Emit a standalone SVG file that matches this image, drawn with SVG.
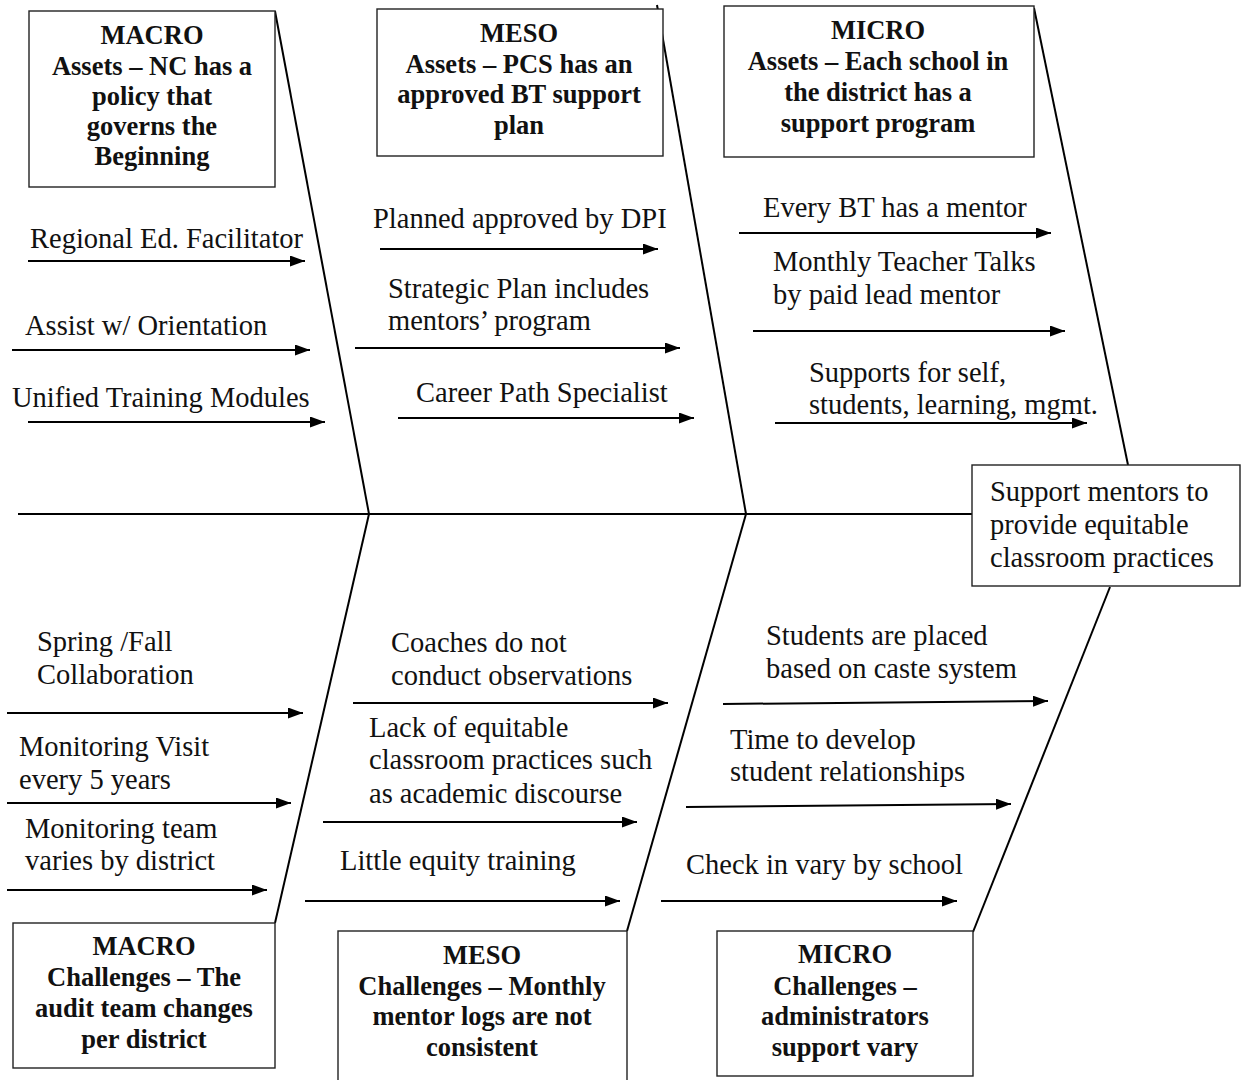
<svg xmlns="http://www.w3.org/2000/svg" width="1244" height="1080" viewBox="0 0 1244 1080">
  <style>
    .bone { stroke: #000; stroke-width: 2; fill: none; }
    .arrow { stroke: #000; stroke-width: 2; fill: none; marker-end: url(#head); }
    .box { fill: #fff; stroke: #222; stroke-width: 1.4; }
    .lbl { font-family: 'Liberation Serif', Tinos, 'DejaVu Serif', serif; font-size: 28.5px; fill: #111; }
    .hd { font-family: 'Liberation Serif', Tinos, 'DejaVu Serif', serif; font-size: 26.5px; font-weight: bold; fill: #111; text-anchor: middle; }
  </style>
  <defs>
    <marker id="head" markerUnits="userSpaceOnUse" markerWidth="15" markerHeight="11" refX="15" refY="5.5" orient="auto">
      <path d="M0,0 L15,5.5 L0,11 z" fill="#000"/>
    </marker>
  </defs>
  <rect width="1244" height="1080" fill="#fff"/>

  <!-- spine and ribs -->
  <g id="connectors">
    <line class="bone" x1="18" y1="514" x2="972" y2="514"/>
    <line class="bone" x1="275" y1="11" x2="369" y2="514"/>
    <line class="bone" x1="657" y1="5" x2="746" y2="514"/>
    <line class="bone" x1="1034" y1="8" x2="1128" y2="465"/>
    <line class="bone" x1="369" y1="514" x2="275" y2="923"/>
    <line class="bone" x1="746" y1="514" x2="627" y2="931"/>
    <line class="bone" x1="1110" y1="587" x2="973" y2="932"/>

    <!-- macro assets -->
    <line class="arrow" x1="28" y1="261" x2="305" y2="261"/>
    <line class="arrow" x1="12" y1="350" x2="310" y2="350"/>
    <line class="arrow" x1="28" y1="422" x2="325" y2="422"/>
    <!-- meso assets -->
    <line class="arrow" x1="380" y1="249" x2="658" y2="249"/>
    <line class="arrow" x1="355" y1="348" x2="680" y2="348"/>
    <line class="arrow" x1="398" y1="418" x2="694" y2="418"/>
    <!-- micro assets -->
    <line class="arrow" x1="739" y1="233" x2="1051" y2="233"/>
    <line class="arrow" x1="753" y1="331" x2="1065" y2="331"/>
    <line class="arrow" x1="775" y1="423" x2="1087" y2="423"/>
    <!-- macro challenges -->
    <line class="arrow" x1="7" y1="713" x2="303" y2="713"/>
    <line class="arrow" x1="7" y1="803" x2="291" y2="803"/>
    <line class="arrow" x1="7" y1="890" x2="267" y2="890"/>
    <!-- meso challenges -->
    <line class="arrow" x1="353" y1="703" x2="668" y2="703"/>
    <line class="arrow" x1="323" y1="822" x2="637" y2="822"/>
    <line class="arrow" x1="305" y1="901" x2="620" y2="901"/>
    <!-- micro challenges -->
    <line class="arrow" x1="723" y1="704" x2="1048" y2="701"/>
    <line class="arrow" x1="686" y1="807" x2="1011" y2="804"/>
    <line class="arrow" x1="661" y1="901" x2="957" y2="901"/>
  </g>

  <!-- branch labels -->
  <g id="labels">
    <text class="lbl" x="30" y="248">Regional Ed. Facilitator</text>
    <text class="lbl" x="25" y="335">Assist w/ Orientation</text>
    <text class="lbl" x="12" y="407">Unified Training Modules</text>

    <text class="lbl" x="373" y="228">Planned approved by DPI</text>
    <text class="lbl" x="388" y="298">Strategic Plan includes</text>
    <text class="lbl" x="388" y="330">mentors’ program</text>
    <text class="lbl" x="416" y="402">Career Path Specialist</text>

    <text class="lbl" x="763" y="217">Every BT has a mentor</text>
    <text class="lbl" x="773" y="271">Monthly Teacher Talks</text>
    <text class="lbl" x="773" y="304">by paid lead mentor</text>
    <text class="lbl" x="809" y="382">Supports for self,</text>
    <text class="lbl" x="809" y="414">students, learning, mgmt.</text>

    <text class="lbl" x="37" y="651">Spring /Fall</text>
    <text class="lbl" x="37" y="684">Collaboration</text>
    <text class="lbl" x="19" y="756">Monitoring Visit</text>
    <text class="lbl" x="19" y="789">every 5 years</text>
    <text class="lbl" x="25" y="838">Monitoring team</text>
    <text class="lbl" x="25" y="870">varies by district</text>

    <text class="lbl" x="391" y="652">Coaches do not</text>
    <text class="lbl" x="391" y="685">conduct observations</text>
    <text class="lbl" x="369" y="737">Lack of equitable</text>
    <text class="lbl" x="369" y="769">classroom practices such</text>
    <text class="lbl" x="369" y="803">as academic discourse</text>
    <text class="lbl" x="340" y="870">Little equity training</text>

    <text class="lbl" x="766" y="645">Students are placed</text>
    <text class="lbl" x="766" y="678">based on caste system</text>
    <text class="lbl" x="730" y="749">Time to develop</text>
    <text class="lbl" x="730" y="781">student relationships</text>
    <text class="lbl" x="686" y="874">Check in vary by school</text>
  </g>

  <!-- category boxes -->
  <g id="macro-assets">
    <rect class="box" x="29" y="11" width="246" height="176"/>
    <text class="hd" x="152" y="44">MACRO</text>
    <text class="hd" x="152" y="75">Assets – NC has a</text>
    <text class="hd" x="152" y="105">policy that</text>
    <text class="hd" x="152" y="135">governs the</text>
    <text class="hd" x="152" y="165">Beginning</text>
  </g>
  <g id="meso-assets">
    <rect class="box" x="377" y="9" width="286" height="147"/>
    <text class="hd" x="519" y="42">MESO</text>
    <text class="hd" x="519" y="73">Assets – PCS has an</text>
    <text class="hd" x="519" y="103">approved BT support</text>
    <text class="hd" x="519" y="134">plan</text>
  </g>
  <g id="micro-assets">
    <rect class="box" x="724" y="6" width="310" height="151"/>
    <text class="hd" x="878" y="39">MICRO</text>
    <text class="hd" x="878" y="70">Assets – Each school in</text>
    <text class="hd" x="878" y="101">the district has a</text>
    <text class="hd" x="878" y="132">support program</text>
  </g>
  <g id="outcome">
    <rect class="box" x="972" y="465" width="268" height="121"/>
    <text class="lbl" x="990" y="501">Support mentors to</text>
    <text class="lbl" x="990" y="534">provide equitable</text>
    <text class="lbl" x="990" y="567">classroom practices</text>
  </g>
  <g id="macro-challenges">
    <rect class="box" x="13" y="923" width="262" height="145"/>
    <text class="hd" x="144" y="955">MACRO</text>
    <text class="hd" x="144" y="986">Challenges – The</text>
    <text class="hd" x="144" y="1017">audit team changes</text>
    <text class="hd" x="144" y="1048">per district</text>
  </g>
  <g id="meso-challenges">
    <rect class="box" x="338" y="931" width="289" height="160"/>
    <text class="hd" x="482" y="964">MESO</text>
    <text class="hd" x="482" y="995">Challenges – Monthly</text>
    <text class="hd" x="482" y="1025">mentor logs are not</text>
    <text class="hd" x="482" y="1056">consistent</text>
  </g>
  <g id="micro-challenges">
    <rect class="box" x="717" y="931" width="256" height="145"/>
    <text class="hd" x="845" y="963">MICRO</text>
    <text class="hd" x="845" y="995">Challenges –</text>
    <text class="hd" x="845" y="1025">administrators</text>
    <text class="hd" x="845" y="1056">support vary</text>
  </g>
</svg>
